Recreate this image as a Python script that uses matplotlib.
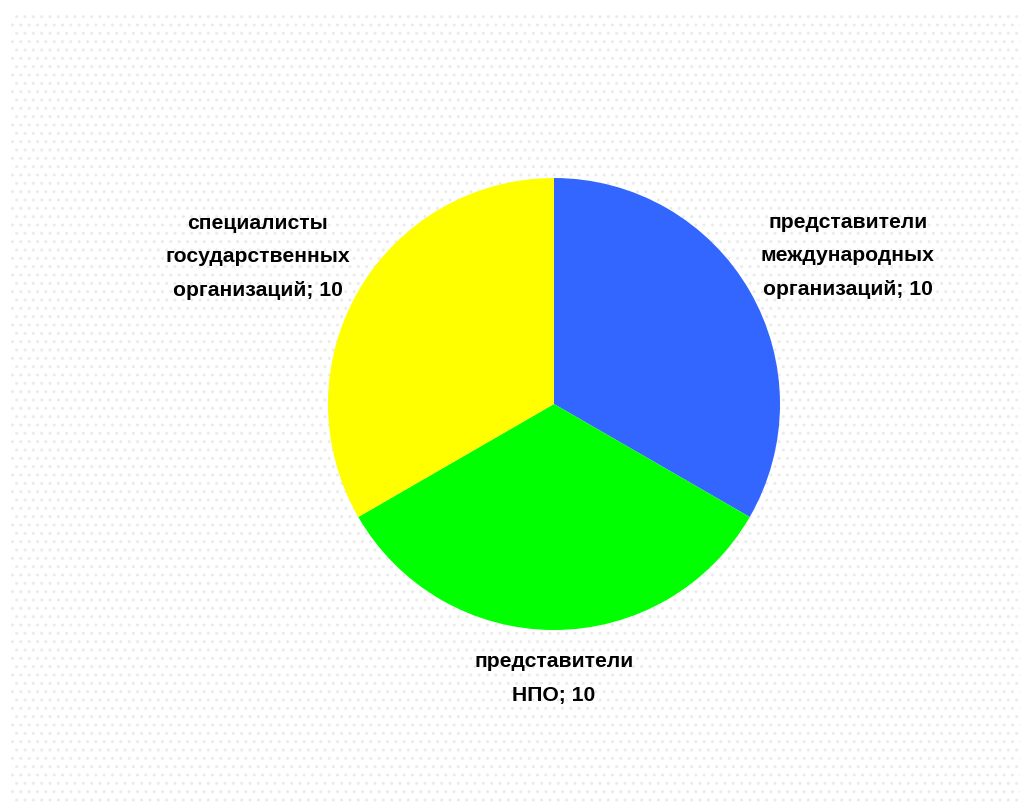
import numpy as np
import matplotlib.pyplot as plt
from matplotlib.patches import Rectangle

# data
labels = ['представители\nмеждународных\nорганизаций', 'представители\nНПО', 'специалисты\nгосударственных\nорганизаций']
values = [10, 10, 10]
colors = ['#3366FF', '#00FF00', '#FFFF00']

# label centres in radius units
label_pos = [(1.30, 0.66), (0.0, -1.21), (-1.31, 0.655)]

plt.rcParams['font.family'] = ['Liberation Sans', 'DejaVu Sans']

fig = plt.figure(figsize=(10.27, 8.03), dpi=100)
fig.patch.set_facecolor('white')

# dotted background panel
bg = Rectangle((10 / 1027, 0), 1010 / 1027, 790 / 803, transform=fig.transFigure,
               facecolor='white', edgecolor='#ebebeb', hatch='..', linewidth=0, zorder=-5)
fig.patches.append(bg)

ax = fig.add_axes([102 / 1027, 13.8 / 803, 904 / 1027, 768.4 / 803])
ax.patch.set_alpha(0)
ax.set_zorder(5)

ax.pie(values, colors=colors, startangle=90, counterclock=False, radius=1,
       wedgeprops=dict(linewidth=0))
ax.set_xlim(-2, 2)
ax.set_ylim(-1.7, 1.7)
ax.set_aspect('auto')
ax.axis('off')

for lab, v, (x, y) in zip(labels, values, label_pos):
    ax.text(x, y, f'{lab}; {v}', ha='center', va='center', fontsize=15.2,
            fontweight='bold', linespacing=1.95)

plt.savefig('out.png', dpi=100)
